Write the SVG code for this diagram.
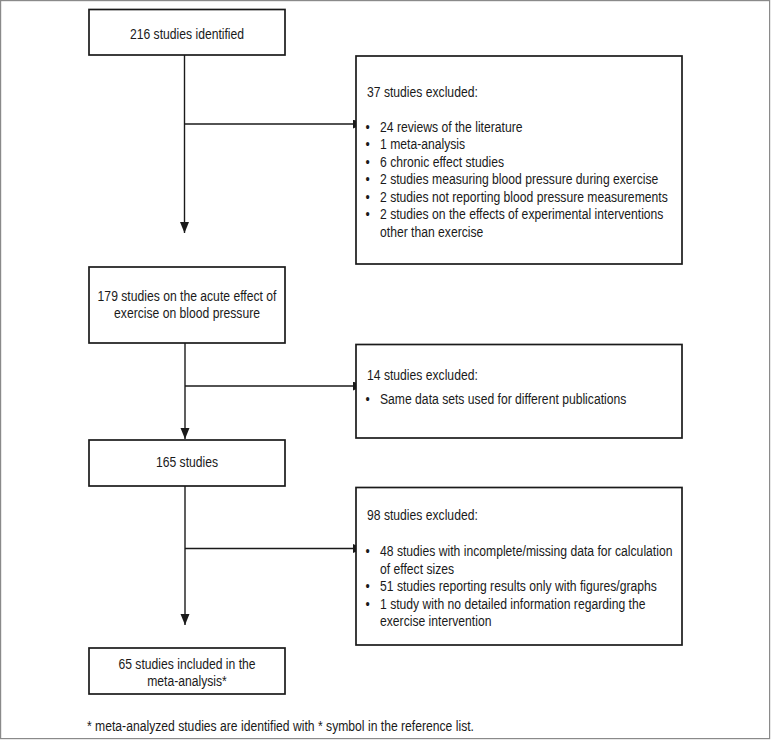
<svg xmlns="http://www.w3.org/2000/svg" width="771" height="740" viewBox="0 0 771 740">
  <style>
    text { font-family: "Liberation Sans", Arial, Helvetica, sans-serif; font-size: 14.3px; fill: #1a1a1a; }
    .c { text-anchor: middle; }
    .box { fill: #ffffff; stroke: #1a1a1a; stroke-width: 1.7; }
    .ln { fill: none; stroke: #1a1a1a; stroke-width: 1.4; }
    .frame { fill: #ffffff; stroke: #8a8a8a; stroke-width: 1.2; }
  </style>
  <defs>
    <marker id="arr" markerUnits="userSpaceOnUse" markerWidth="12" markerHeight="10" refX="11" refY="4.5" orient="auto">
      <path d="M0,0 L11,4.5 L0,9 z" fill="#1a1a1a"/>
    </marker>
  </defs>

  <rect class="frame" x="0.6" y="0.6" width="769" height="738"/>

  <g id="connectors">
    <line class="ln" x1="184.5" y1="55" x2="184.5" y2="233" marker-end="url(#arr)"/>
    <line class="ln" x1="184.5" y1="124" x2="364" y2="124" marker-end="url(#arr)"/>
    <line class="ln" x1="185" y1="343" x2="185" y2="439" marker-end="url(#arr)"/>
    <line class="ln" x1="185" y1="386" x2="364" y2="386" marker-end="url(#arr)"/>
    <line class="ln" x1="185" y1="486" x2="185" y2="625" marker-end="url(#arr)"/>
    <line class="ln" x1="185" y1="548.5" x2="364" y2="548.5" marker-end="url(#arr)"/>
  </g>

  <g id="n1">
    <rect class="box" x="89" y="9.5" width="196" height="45.5"/>
    <text class="c" transform="translate(187,38.5) scale(0.85,1)">216 studies identified</text>
  </g>

  <g id="n2">
    <rect class="box" x="356" y="56" width="326" height="208"/>
    <text transform="translate(367,97) scale(0.85,1)">37 studies excluded:</text>
    <text transform="translate(365.5,131.5) scale(0.85,1)">•</text>
    <text transform="translate(380,131.5) scale(0.85,1)">24 reviews of the literature</text>
    <text transform="translate(365.5,149) scale(0.85,1)">•</text>
    <text transform="translate(380,149) scale(0.85,1)">1 meta-analysis</text>
    <text transform="translate(365.5,166.5) scale(0.85,1)">•</text>
    <text transform="translate(380,166.5) scale(0.85,1)">6 chronic effect studies</text>
    <text transform="translate(365.5,184) scale(0.85,1)">•</text>
    <text transform="translate(380,184) scale(0.85,1)">2 studies measuring blood pressure during exercise</text>
    <text transform="translate(365.5,201.5) scale(0.85,1)">•</text>
    <text transform="translate(380,201.5) scale(0.85,1)">2 studies not reporting blood pressure measurements</text>
    <text transform="translate(365.5,219) scale(0.85,1)">•</text>
    <text transform="translate(380,219) scale(0.85,1)">2 studies on the effects of experimental interventions</text>
    <text transform="translate(380,236.5) scale(0.85,1)">other than exercise</text>
  </g>

  <g id="n3">
    <rect class="box" x="89" y="267" width="196" height="76"/>
    <text class="c" transform="translate(187,300.5) scale(0.85,1)">179 studies on the acute effect of</text>
    <text class="c" transform="translate(187,318) scale(0.85,1)">exercise on blood pressure</text>
  </g>

  <g id="n4">
    <rect class="box" x="356" y="344.5" width="326" height="93.5"/>
    <text transform="translate(367,380) scale(0.85,1)">14 studies excluded:</text>
    <text transform="translate(365.5,404) scale(0.85,1)">•</text>
    <text transform="translate(380,404) scale(0.85,1)">Same data sets used for different publications</text>
  </g>

  <g id="n5">
    <rect class="box" x="89" y="440" width="196" height="46"/>
    <text class="c" transform="translate(187,467) scale(0.85,1)">165 studies</text>
  </g>

  <g id="n6">
    <rect class="box" x="356" y="487.5" width="326" height="157.5"/>
    <text transform="translate(367,520) scale(0.85,1)">98 studies excluded:</text>
    <text transform="translate(365.5,556) scale(0.85,1)">•</text>
    <text transform="translate(380,556) scale(0.85,1)">48 studies with incomplete/missing data for calculation</text>
    <text transform="translate(380,573.5) scale(0.85,1)">of effect sizes</text>
    <text transform="translate(365.5,591) scale(0.85,1)">•</text>
    <text transform="translate(380,591) scale(0.85,1)">51 studies reporting results only with figures/graphs</text>
    <text transform="translate(365.5,608.5) scale(0.85,1)">•</text>
    <text transform="translate(380,608.5) scale(0.85,1)">1 study with no detailed information regarding the</text>
    <text transform="translate(380,626) scale(0.85,1)">exercise intervention</text>
  </g>

  <g id="n7">
    <rect class="box" x="89" y="648" width="196" height="46"/>
    <text class="c" transform="translate(187,668.5) scale(0.85,1)">65 studies included in the</text>
    <text class="c" transform="translate(187,686) scale(0.85,1)">meta-analysis*</text>
  </g>

  <text id="footnote" transform="translate(87,731) scale(0.85,1)">* meta-analyzed studies are identified with * symbol in the reference list.</text>
</svg>
